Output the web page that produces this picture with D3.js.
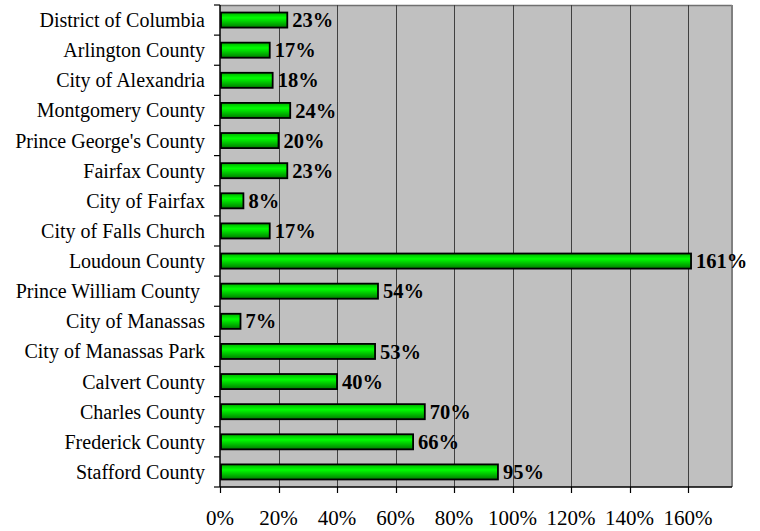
<!DOCTYPE html>
<html>
<head>
<meta charset="utf-8">
<script src="https://cdn.jsdelivr.net/npm/d3@7"></script>
<style>
    body { margin: 0; background: #fff; }
    text { font-family: "Liberation Serif", "Times New Roman", serif; }
</style>
</head>
<body>
<svg id="chart" width="760" height="531"></svg>
<script>
var categories = [
    "District of Columbia", "Arlington County", "City of Alexandria", "Montgomery County",
    "Prince George's County", "Fairfax County", "City of Fairfax", "City of Falls Church",
    "Loudoun County", "Prince William County ", "City of Manassas", "City of Manassas Park",
    "Calvert County", "Charles County", "Frederick County", "Stafford County"
];
var growth = [23, 17, 18, 24, 20, 23, 8, 17, 161, 54, 7, 53, 40, 70, 66, 95];
var xTicks = [0, 20, 40, 60, 80, 100, 120, 140, 160];

(function() {
    var margin = {left: 220, top: 5, right: 28, bottom: 44};
    var width = 760 - margin.left - margin.right,
        height = 531 - margin.top - margin.bottom;

    var svg = d3.select("#chart");

    var defs = svg.append("defs");
    var grad = defs.append("linearGradient")
        .attr("id", "barGrad")
        .attr("x1", 0).attr("y1", 0).attr("x2", 0).attr("y2", 1);
    grad.append("stop").attr("offset", "0%").attr("stop-color", "#00b000");
    grad.append("stop").attr("offset", "35%").attr("stop-color", "#00ff00");
    grad.append("stop").attr("offset", "100%").attr("stop-color", "#007a00");

    var g = svg.append("g")
        .attr("transform", "translate(" + margin.left + "," + margin.top + ")");

    var x = d3.scaleLinear().domain([0, 175]).range([0, width]);
    var y = d3.scaleBand().domain(categories).range([0, height]).paddingInner(0.5).paddingOuter(0.25);

    // plot background
    g.append("rect")
        .attr("width", width).attr("height", height)
        .attr("fill", "#c0c0c0");

    // frame top / right
    g.append("line").attr("x1", 0).attr("x2", width).attr("y1", 0.5).attr("y2", 0.5)
        .attr("stroke", "#707070").attr("stroke-width", 1.5);
    g.append("line").attr("x1", width).attr("x2", width).attr("y1", 0).attr("y2", height)
        .attr("stroke", "#808080").attr("stroke-width", 2);

    // gridlines
    g.selectAll(".grid")
        .data(xTicks.slice(1))
        .enter()
        .append("line")
        .attr("class", "grid")
        .attr("x1", function(d) { return Math.round(x(d)) + 0.5; })
        .attr("x2", function(d) { return Math.round(x(d)) + 0.5; })
        .attr("y1", 0).attr("y2", height)
        .attr("stroke", "#404040").attr("stroke-width", 1);

    // bars
    g.selectAll(".bar")
        .data(growth)
        .enter()
        .append("rect")
        .attr("class", "bar")
        .attr("x", 1)
        .attr("y", function(d, i) { return y(categories[i]); })
        .attr("width", function(d) { return x(d) - 1; })
        .attr("height", y.bandwidth())
        .attr("fill", "url(#barGrad)")
        .attr("stroke", "#000")
        .attr("stroke-width", 1.8);

    // value labels
    g.selectAll(".val")
        .data(growth)
        .enter()
        .append("text")
        .attr("class", "val")
        .attr("x", function(d) { return x(d) + 5; })
        .attr("y", function(d, i) { return y(categories[i]) + y.bandwidth() / 2; })
        .attr("dy", "0.35em")
        .attr("font-size", "20.5px")
        .attr("font-weight", "bold")
        .attr("fill", "#000")
        .text(function(d) { return d + "%"; });

    // y axis: category ticks at band boundaries
    var step = height / categories.length;
    var yAxis = g.append("g");
    yAxis.append("line").attr("x1", 0).attr("x2", 0).attr("y1", 0).attr("y2", height)
        .attr("stroke", "#000").attr("stroke-width", 1.5);
    yAxis.selectAll(".ytick")
        .data(d3.range(categories.length + 1))
        .enter()
        .append("line")
        .attr("x1", -6).attr("x2", 0)
        .attr("y1", function(i) { return i * step; })
        .attr("y2", function(i) { return i * step; })
        .attr("stroke", "#000").attr("stroke-width", 1.2);
    yAxis.selectAll(".ylab")
        .data(categories)
        .enter()
        .append("text")
        .attr("x", -15)
        .attr("y", function(d) { return y(d) + y.bandwidth() / 2; })
        .attr("dy", "0.35em")
        .attr("text-anchor", "end")
        .attr("font-size", "20px")
        .attr("fill", "#000")
        .style("white-space", "pre")
        .text(function(d) { return d; });

    // x axis
    var xAxis = g.append("g").attr("transform", "translate(0," + height + ")");
    xAxis.append("line").attr("x1", 0).attr("x2", width).attr("y1", 0).attr("y2", 0)
        .attr("stroke", "#000").attr("stroke-width", 1.5);
    xAxis.selectAll(".xtick")
        .data(xTicks)
        .enter()
        .append("line")
        .attr("x1", function(d) { return Math.round(x(d)) + 0.5; })
        .attr("x2", function(d) { return Math.round(x(d)) + 0.5; })
        .attr("y1", 0).attr("y2", 6)
        .attr("stroke", "#000").attr("stroke-width", 1.2);
    xAxis.selectAll(".xlab")
        .data(xTicks)
        .enter()
        .append("text")
        .attr("x", function(d) { return x(d); })
        .attr("y", 31)
        .attr("dy", "0.35em")
        .attr("text-anchor", "middle")
        .attr("font-size", "21px")
        .attr("fill", "#000")
        .text(function(d) { return d + "%"; });
}());
</script>
</body>
</html>
